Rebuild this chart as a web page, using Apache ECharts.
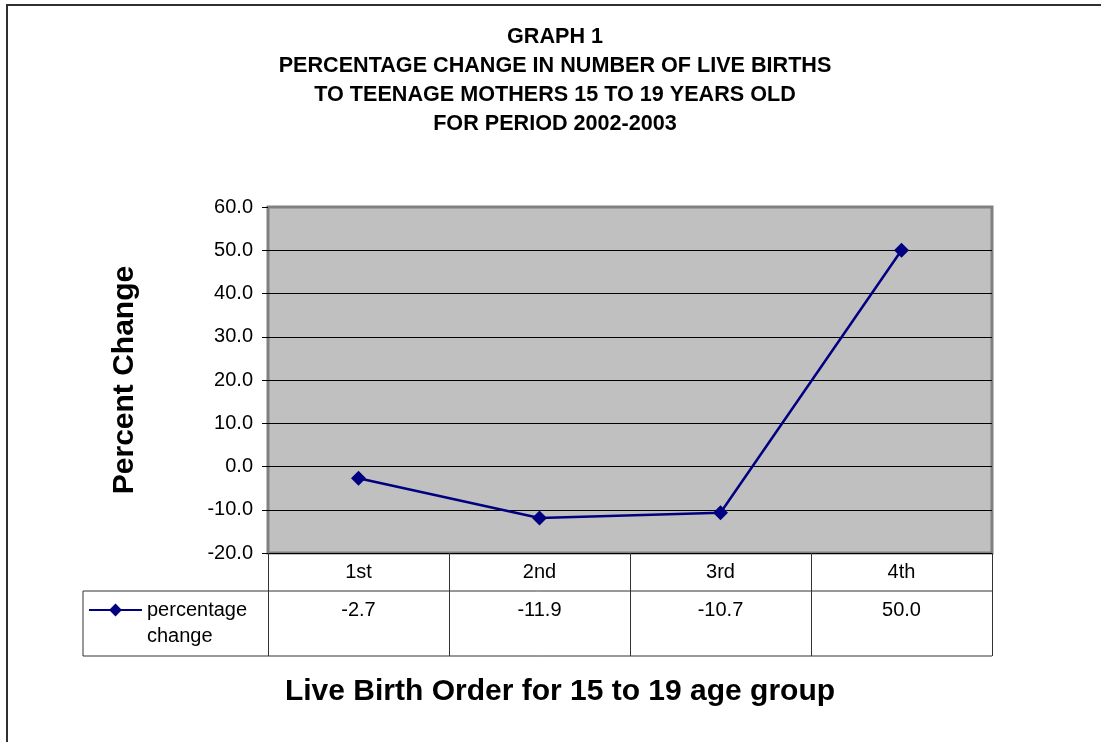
<!DOCTYPE html>
<html>
<head>
<meta charset="utf-8">
<script src="https://cdn.jsdelivr.net/npm/echarts@6/dist/echarts.min.js"></script>
<style>
  html, body { margin: 0; padding: 0; background: #fff; }
  #chart { width: 1101px; height: 742px; }
</style>
</head>
<body>
<div id="chart"></div>
<script>
// data
const categories = ['1st', '2nd', '3rd', '4th']
const seriesName = 'percentage change'
const pctChange = [-2.7, -11.9, -10.7, 50.0]
const yTicks = { min: -20, max: 60, step: 10 }

const font = 'Liberation Sans, Arial, sans-serif'
// plot area in px (the table hangs under it)
const plot = { left: 268, right: 992, top: 207, bottom: 553 }
const tableRow = 591   // line between category row and value row
const tableEnd = 656
const legendLeft = 83

const chart = echarts.init(document.getElementById('chart'))

chart.setOption({
  backgroundColor: '#fff',
  animation: false,
  textStyle: { fontFamily: font },
  title: [
    {
      text: 'GRAPH 1\nPERCENTAGE CHANGE IN NUMBER OF LIVE BIRTHS\nTO TEENAGE MOTHERS 15 TO 19 YEARS OLD\nFOR PERIOD 2002-2003',
      left: 555,
      top: 23,
      textAlign: 'center',
      padding: 0,
      textStyle: { fontFamily: font, fontSize: 21.6, fontWeight: 'bold', color: '#000', lineHeight: 29 }
    },
    {
      text: 'Live Birth Order for 15 to 19 age group',
      left: 560,
      top: 677,
      textAlign: 'center',
      padding: 0,
      textStyle: { fontFamily: font, fontSize: 30, fontWeight: 'bold', color: '#000' }
    }
  ],
  legend: {
    data: [seriesName],
    left: legendLeft + 5,
    top: 571,
    padding: 0,
    itemWidth: 53,
    itemHeight: 16,
    itemGap: 0,
    // blank first line keeps "percentage" level with the icon
    formatter: () => '\u00a0\npercentage\nchange',
    textStyle: { fontFamily: font, fontSize: 20, color: '#000', lineHeight: 26 }
  },
  grid: {
    left: plot.left,
    right: 1101 - plot.right,
    top: plot.top,
    bottom: 742 - plot.bottom,
    show: true,
    backgroundColor: '#c0c0c0',
    borderColor: '#808080',
    borderWidth: 3
  },
  xAxis: [
    {
      type: 'category',
      data: categories,
      boundaryGap: true,
      axisLine: { show: true, onZero: false, lineStyle: { color: '#000', width: 1 } },
      axisTick: { show: true, length: tableEnd - plot.bottom, lineStyle: { color: '#333' } },
      axisLabel: { color: '#000', fontSize: 20, margin: 9, verticalAlign: 'top' }
    },
    {
      type: 'category',
      data: pctChange.map(v => v.toFixed(1)),
      position: 'bottom',
      offset: tableRow - plot.bottom,
      boundaryGap: true,
      axisLine: { show: false, onZero: false },
      axisTick: { show: false },
      axisLabel: { color: '#000', fontSize: 20, margin: 9, verticalAlign: 'top' }
    }
  ],
  yAxis: {
    type: 'value',
    min: yTicks.min,
    max: yTicks.max,
    interval: yTicks.step,
    name: 'Percent Change',
    nameLocation: 'middle',
    nameRotate: 90,
    nameGap: 128,
    nameTextStyle: { fontFamily: font, fontSize: 30, fontWeight: 'bold', color: '#000' },
    axisLine: { show: false },
    axisTick: { show: true, length: 6, lineStyle: { color: '#000' } },
    axisLabel: { color: '#000', fontSize: 20, margin: 15, formatter: v => v.toFixed(1) },
    splitLine: { show: true, showMaxLine: false, showMinLine: false, lineStyle: { color: '#000', width: 1 } }
  },
  series: [
    {
      name: seriesName,
      type: 'line',
      data: pctChange,
      symbol: 'diamond',
      symbolSize: 15,
      lineStyle: { color: '#000080', width: 2.5 },
      itemStyle: { color: '#000080' }
    }
  ],
  graphic: [
    // outer frame
    { type: 'rect', shape: { x: 7, y: 5, width: 1200, height: 800 }, style: { fill: null, stroke: '#303030', lineWidth: 2 }, silent: true },
    // data table lines
    { type: 'line', shape: { x1: legendLeft, y1: tableRow, x2: plot.right, y2: tableRow }, style: { stroke: '#333', lineWidth: 1 }, z: 100 },
    { type: 'line', shape: { x1: legendLeft, y1: tableEnd, x2: plot.right, y2: tableEnd }, style: { stroke: '#333', lineWidth: 1 }, z: 100 },
    { type: 'line', shape: { x1: legendLeft, y1: tableRow, x2: legendLeft, y2: tableEnd }, style: { stroke: '#333', lineWidth: 1 }, z: 100 }
  ]
})
</script>
</body>
</html>
